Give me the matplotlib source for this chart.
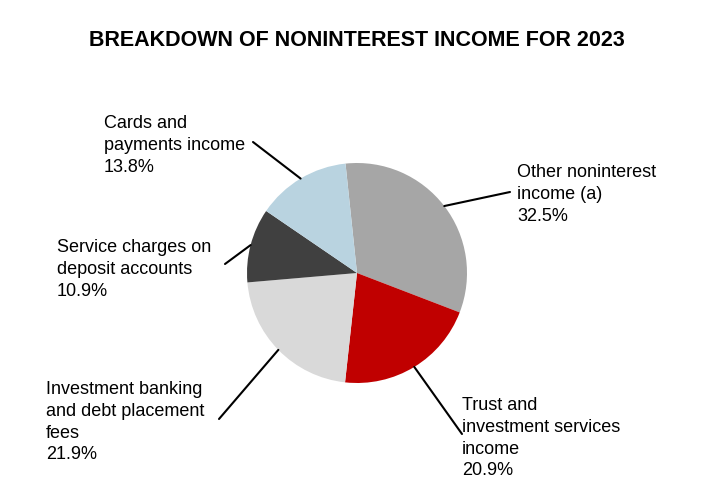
import numpy as np
import matplotlib
matplotlib.use("Agg")
import matplotlib.pyplot as plt

plt.rcParams["font.family"] = ["Liberation Sans", "DejaVu Sans"]

# Slices, clockwise from the top
labels = [
    "Other noninterest\nincome (a)",
    "Trust and\ninvestment services\nincome",
    "Investment banking\nand debt placement\nfees",
    "Service charges on\ndeposit accounts",
    "Cards and\npayments income",
]
shares = [32.5, 20.9, 21.9, 10.9, 13.8]
colors = ["#a6a6a6", "#c00000", "#d9d9d9", "#404040", "#b9d3e0"]

# label block placement (figure pixels, top-left of text) and leader-line start
label_pos = [(517, 164), (462, 397), (46, 381), (57, 239), (104, 115)]
line_start = [(510, 192), (462, 434), (219, 419), (225, 264), (253, 142)]

W, H = 714, 492
fig = plt.figure(figsize=(W / 100, H / 100), dpi=100)

fig.text(0.5, 1 - 41 / H, "BREAKDOWN OF NONINTEREST INCOME FOR 2023",
         ha="center", va="center", fontsize=15.5, fontweight="bold")

cx, cy, r = 357, 273, 110
ax = fig.add_axes([(cx - r) / W, (H - cy - r) / H, 2 * r / W, 2 * r / H])
wedges, _ = ax.pie(shares, colors=colors, startangle=96, counterclock=False,
                   radius=1, wedgeprops=dict(linewidth=0))
ax.set_xlim(-1, 1)
ax.set_ylim(-1, 1)
ax.set_aspect("equal")
ax.axis("off")

for w, lab, val, (tx, ty), (lx, ly) in zip(wedges, labels, shares, label_pos, line_start):
    mid = np.deg2rad((w.theta1 + w.theta2) / 2)
    fig.text(tx / W, 1 - ty / H, f"{lab}\n{val:.1f}%", ha="left", va="top",
             fontsize=13, linespacing=1.37)
    ax.annotate("", xy=(np.cos(mid), np.sin(mid)), xycoords="data",
                xytext=(lx, H - ly), textcoords="figure pixels",
                arrowprops=dict(arrowstyle="-", color="black", lw=1.5,
                                shrinkA=0, shrinkB=0))

fig.savefig("out.png", dpi=100)
